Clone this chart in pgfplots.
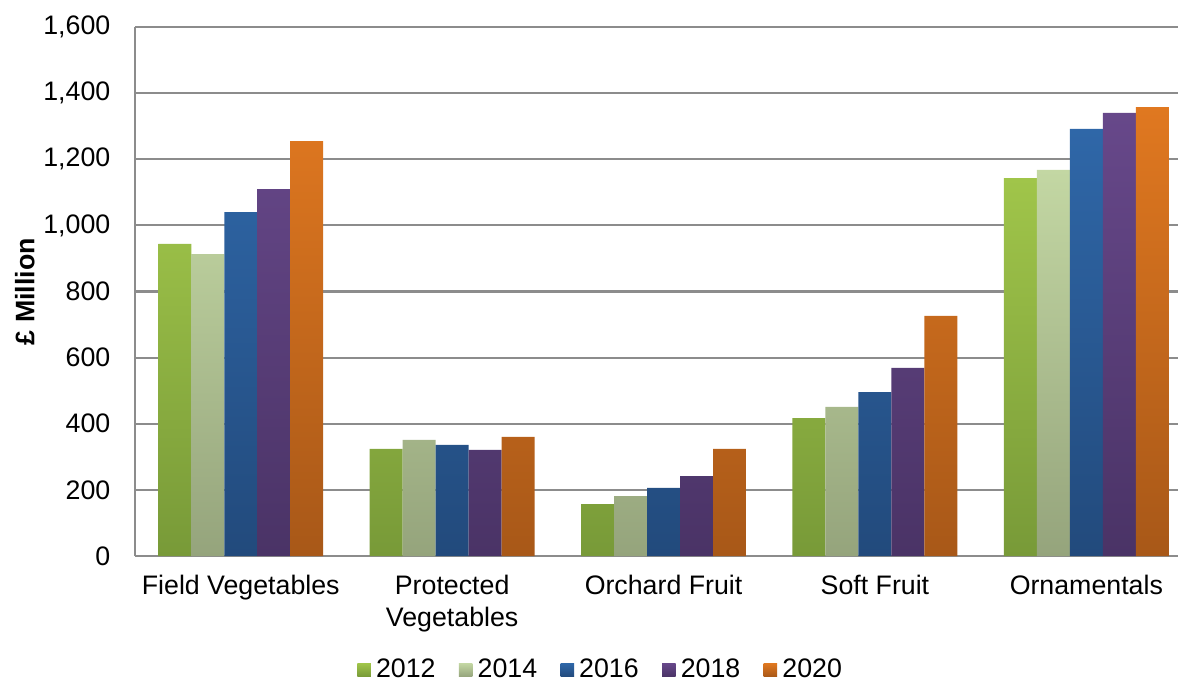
\documentclass[border=0pt]{standalone}
\usepackage{fontspec}
\setmainfont{Liberation Sans}
\usepackage{pgfplots}
\usepackage{pgfplotstable}
\pgfplotsset{compat=1.18}
\usetikzlibrary{calc}

\definecolor{gridgray}{HTML}{8C8C8C}
\definecolor{aT}{HTML}{A0C54A}\definecolor{aB}{HTML}{789A38}
\definecolor{bT}{HTML}{C3D7A3}\definecolor{bB}{HTML}{95A47C}
\definecolor{cT}{HTML}{2F67A8}\definecolor{cB}{HTML}{224A7C}
\definecolor{dT}{HTML}{67488A}\definecolor{dB}{HTML}{4A3366}
\definecolor{eT}{HTML}{E07820}\definecolor{eB}{HTML}{A85818}

\newcommand\fs{\fontsize{10.3}{12}\selectfont}

% values in GBP million
\pgfplotstableread{
x y12 y14 y16 y18 y20
0 944 913 1040 1110 1255
1 324 351 336 321 360
2 157 181 206 242 324
3 417 451 496 569 726
4 1143 1168 1292 1340 1358
}\data

\begin{document}
\begin{tikzpicture}[font=\fs]
\begin{axis}[
  name=ax,
  scale only axis,
  width=407pt, height=203.7pt,
  ybar=0pt, bar width=0.156,
  xmin=-0.5, xmax=4.5,
  ymin=0, ymax=1600,
  xtick={0,...,4},
  xticklabels={Field Vegetables,{Protected\\Vegetables},Orchard Fruit,Soft Fruit,Ornamentals},
  xticklabel style={align=center, yshift=-4pt},
  ytick={0,200,...,1600},
  yticklabel style={xshift=-6pt},
  /pgf/number format/.cd, 1000 sep={,}, assume math mode=true, /pgfplots/.cd,
  ymajorgrids,
  grid style={gridgray, line width=0.8pt},
  major tick length=0pt,
  axis lines*=left,
  axis line style={-, gridgray, line width=0.8pt},
  ylabel={\textbf{£ Million}},
  every axis y label/.style={at={(axis description cs:0,0.5)}, xshift=-42.4pt, rotate=90, anchor=center},
  legend style={at={(axis description cs:0.442,-0.2155)}, anchor=center, draw=none,
    legend columns=5, font=\fs,
    /tikz/every even column/.append style={column sep=7pt}},
  legend image code/.code={\path[#1,draw=none] (0pt,-2.6pt) rectangle (5.2pt,2.6pt);},
]
\addplot[draw=none, top color=aT, bottom color=aB] table[x=x, y=y12] {\data};
\addlegendentry{2012}
\addplot[draw=none, top color=bT, bottom color=bB] table[x=x, y=y14] {\data};
\addlegendentry{2014}
\addplot[draw=none, top color=cT, bottom color=cB] table[x=x, y=y16] {\data};
\addlegendentry{2016}
\addplot[draw=none, top color=dT, bottom color=dB] table[x=x, y=y18] {\data};
\addlegendentry{2018}
\addplot[draw=none, top color=eT, bottom color=eB] table[x=x, y=y20] {\data};
\addlegendentry{2020}
\end{axis}
\pgfresetboundingbox
\path[use as bounding box] ($(ax.south west)+(-52pt,-48.5pt)$) rectangle ($(ax.north east)+(-5.4pt,10.4pt)$);
\end{tikzpicture}
\end{document}
